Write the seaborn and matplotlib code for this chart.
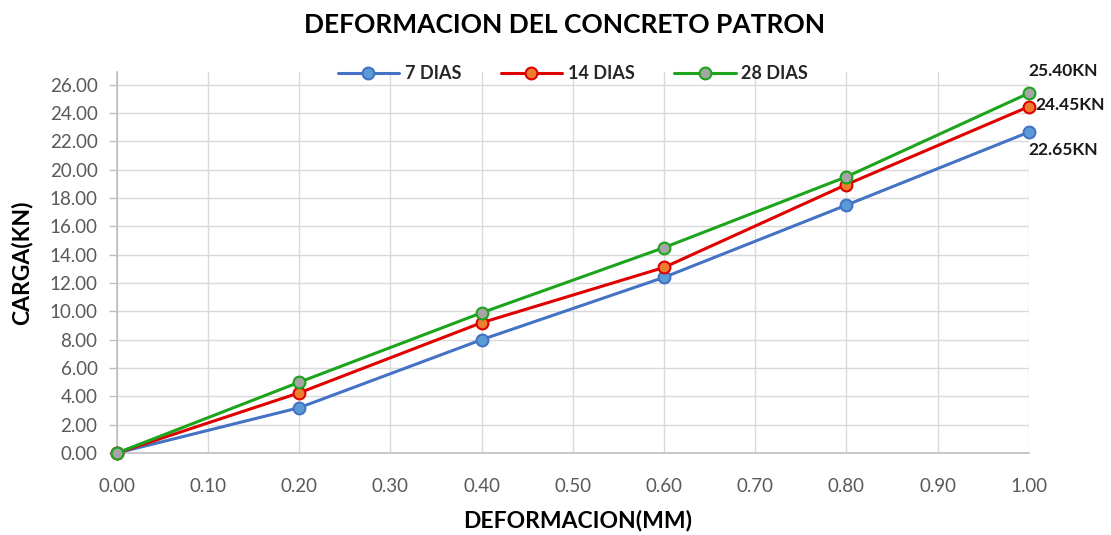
import matplotlib
matplotlib.use("Agg")
import matplotlib.pyplot as plt
import seaborn as sns
import pandas as pd

# Load test data: deformation (mm) vs. load (kN) for the reference concrete
deformacion = [0.0, 0.2, 0.4, 0.6, 0.8, 1.0]
carga_7 = [0.0, 3.2, 8.0, 12.4, 17.5, 22.65]
carga_14 = [0.0, 4.25, 9.2, 13.1, 18.95, 24.45]
carga_28 = [0.0, 5.0, 9.9, 14.5, 19.5, 25.40]
series_names = ["7 DIAS", "14 DIAS", "28 DIAS"]
end_labels = ["22.65KN", "24.45KN", "25.40KN"]
y_ticks = [0, 2, 4, 6, 8, 10, 12, 14, 16, 18, 20, 22, 24, 26]
x_ticks = [0.0, 0.1, 0.2, 0.3, 0.4, 0.5, 0.6, 0.7, 0.8, 0.9, 1.0]

df = pd.DataFrame({
    "DEFORMACION": deformacion * 3,
    "CARGA": carga_7 + carga_14 + carga_28,
    "SERIE": [s for s in series_names for _ in deformacion],
})

sns.set_theme(style="whitegrid")
plt.rcParams["font.family"] = ["Lato", "DejaVu Sans"]

line_colors = {"7 DIAS": "#4472C4", "14 DIAS": "#E00000", "28 DIAS": "#1DA41D"}
face_colors = {"7 DIAS": "#5B9BD5", "14 DIAS": "#ED7D31", "28 DIAS": "#A5A5A5"}

fig = plt.figure(figsize=(11.11, 5.35), dpi=100)
ax = fig.add_axes([0.1053, 0.1533, 0.8206, 0.7121])

for name in series_names:
    sub = df[df["SERIE"] == name]
    sns.lineplot(data=sub, x="DEFORMACION", y="CARGA", ax=ax,
                 color=line_colors[name], linewidth=2.2, marker="o",
                 markersize=8.5, markerfacecolor=face_colors[name],
                 markeredgecolor=line_colors[name], markeredgewidth=1.5,
                 label=name, zorder=3, clip_on=False)

# Value labels at the final point of each curve
last_x = deformacion[-1]
ax.annotate(end_labels[0], (last_x, carga_7[-1]), xytext=(0, -7),
            textcoords="offset points", ha="left", va="top",
            fontsize=12.5, fontweight="bold", color="#1a1a1a")
ax.annotate(end_labels[1], (last_x, carga_14[-1]), xytext=(5, 1),
            textcoords="offset points", ha="left", va="center",
            fontsize=12.5, fontweight="bold", color="#1a1a1a")
ax.annotate(end_labels[2], (last_x, carga_28[-1]), xytext=(0, 10),
            textcoords="offset points", ha="left", va="bottom",
            fontsize=12.5, fontweight="bold", color="#1a1a1a")

ax.set_xlim(0, 1.0)
ax.set_ylim(0, 26.9)
ax.set_xticks(x_ticks)
ax.set_yticks(y_ticks)
ax.set_xticklabels([f"{v:.2f}" for v in x_ticks])
ax.set_yticklabels([f"{v:.2f}" for v in y_ticks])
ax.tick_params(axis="both", labelsize=13.5, labelcolor="#595959")
ax.tick_params(axis="x", bottom=False, pad=12)
ax.tick_params(axis="y", left=True, length=6, color="#BFBFBF", width=1, pad=8)
ax.grid(True, color="#D9D9D9", linewidth=1)
ax.set_axisbelow(True)

for side in ["top", "right"]:
    ax.spines[side].set_visible(False)
ax.spines["left"].set_color("#BFBFBF")
ax.spines["bottom"].set_color("#BFBFBF")
ax.spines["left"].set_linewidth(1.2)
ax.spines["bottom"].set_linewidth(1.2)

ax.set_xlabel("DEFORMACION(MM)", fontsize=16.5, fontweight="bold", color="#000000")
ax.set_ylabel("CARGA(KN)", fontsize=16.5, fontweight="bold", color="#000000")
ax.xaxis.set_label_coords(0.505, -0.148)
ax.yaxis.set_label_coords(-0.093, 0.5)

fig.suptitle("DEFORMACION DEL CONCRETO PATRON", x=0.508, y=0.975,
             fontsize=19, fontweight="bold", color="#000000")

leg = ax.legend(loc="upper center", bbox_to_anchor=(0.5, 1.06), ncol=3,
                frameon=False, fontsize=13, handlelength=3.4,
                columnspacing=2.2, handletextpad=0.3)
for t in leg.get_texts():
    t.set_fontweight("bold")

fig.savefig("out.png", dpi=100, facecolor="white")
